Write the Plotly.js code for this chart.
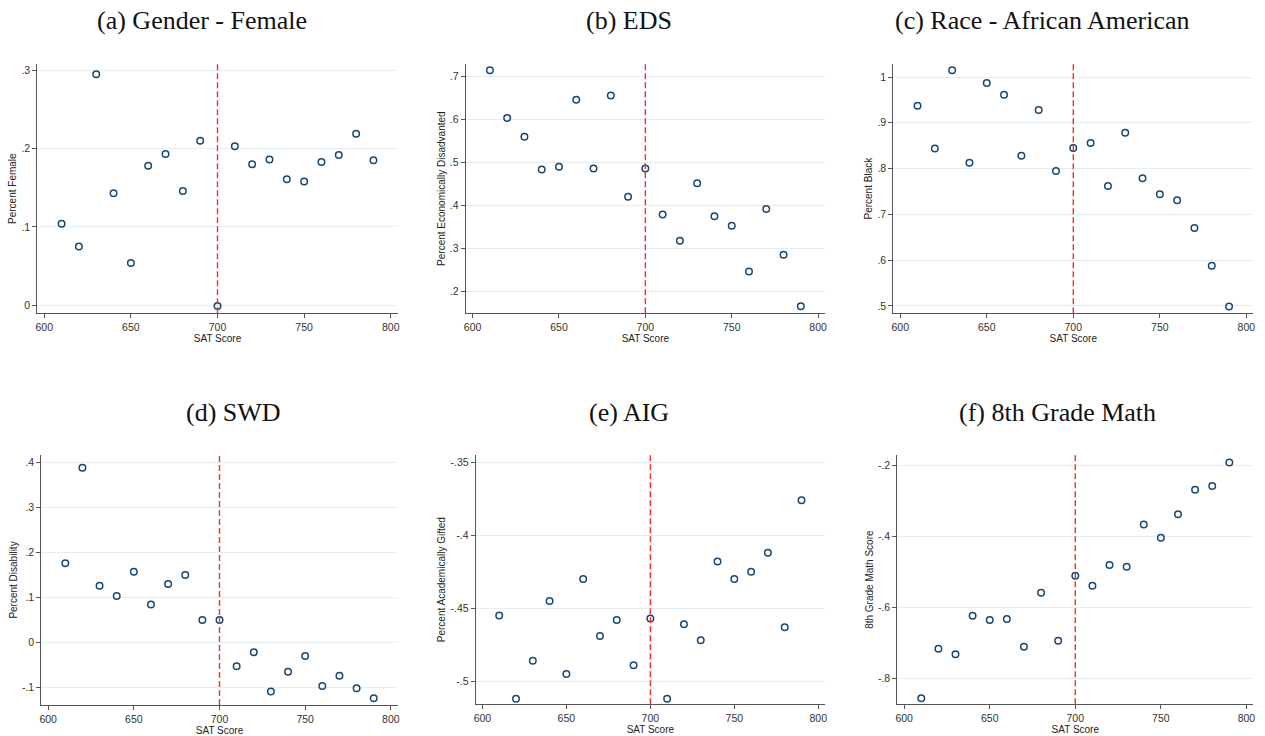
<!DOCTYPE html>
<html>
<head>
<meta charset="utf-8">
<script src="https://cdn.plot.ly/plotly-3.0.1.min.js"></script>
<style>
  html, body { margin: 0; padding: 0; background: #ffffff; }
  #chart { width: 1265px; height: 736px; }
</style>
</head>
<body>
<div id="chart"></div>
<script>
// SAT score bins (x axis shared by every panel)
const satScore = [610, 620, 630, 640, 650, 660, 670, 680, 690, 700,
                  710, 720, 730, 740, 750, 760, 770, 780, 790];

// Binned means per outcome
const pctFemale = [0.104, 0.075, 0.295, 0.143, 0.054, 0.178, 0.193, 0.146, 0.210, -0.001,
                   0.203, 0.180, 0.186, 0.161, 0.158, 0.183, 0.192, 0.219, 0.185];
const pctEconDisadv = [0.715, 0.604, 0.560, 0.484, 0.490, 0.646, 0.486, 0.656, 0.420, 0.486,
                       0.379, 0.318, 0.452, 0.375, 0.353, 0.246, 0.392, 0.285, 0.165];
const pctBlack = [0.937, 0.844, 1.015, 0.813, 0.987, 0.961, 0.828, 0.928, 0.795, 0.845,
                  0.856, 0.762, 0.878, 0.779, 0.744, 0.731, 0.670, 0.588, 0.499];
const pctDisability = [0.176, 0.388, 0.126, 0.103, 0.157, 0.084, 0.130, 0.150, 0.050, 0.050,
                       -0.053, -0.022, -0.109, -0.065, -0.030, -0.097, -0.074, -0.102, -0.124];
const pctGifted = [-0.455, -0.512, -0.486, -0.445, -0.495, -0.430, -0.469, -0.458, -0.489, -0.457,
                   -0.512, -0.461, -0.472, -0.418, -0.430, -0.425, -0.412, -0.463, -0.376];
const math8 = [-0.856, -0.717, -0.732, -0.624, -0.636, -0.633, -0.711, -0.559, -0.694, -0.511,
               -0.539, -0.481, -0.486, -0.367, -0.404, -0.338, -0.269, -0.258, -0.192];

// Panel titles, y-axis titles and y tick labels
const panelTitles = ['(a) Gender - Female', '(b) EDS', '(c) Race - African American',
                     '(d) SWD', '(e) AIG', '(f) 8th Grade Math'];
const yTitles = ['Percent Female', 'Percent Economically Disadvanted', 'Percent Black',
                 'Percent Disability', 'Percent Academically Gifted', '8th Grade Math Score'];
const yTickVals = [
  [0, 0.1, 0.2, 0.3],
  [0.2, 0.3, 0.4, 0.5, 0.6, 0.7],
  [0.5, 0.6, 0.7, 0.8, 0.9, 1],
  [-0.1, 0, 0.1, 0.2, 0.3, 0.4],
  [-0.5, -0.45, -0.4, -0.35],
  [-0.8, -0.6, -0.4, -0.2]
];
const yTickText = [
  ['0', '.1', '.2', '.3'],
  ['.2', '.3', '.4', '.5', '.6', '.7'],
  ['.5', '.6', '.7', '.8', '.9', '1'],
  ['-.1', '0', '.1', '.2', '.3', '.4'],
  ['-.5', '-.45', '-.4', '-.35'],
  ['-.8', '-.6', '-.4', '-.2']
];
const xTickVals = [600, 650, 700, 750, 800];
const cutoff = 700;

const series = [pctFemale, pctEconDisadv, pctBlack, pctDisability, pctGifted, math8];

// Page geometry (pixels) for each panel: plot box, y range, title centre
const W = 1265, H = 736;
const panels = [
  { x0: 37.3,  x1: 397.7,  y0: 64,  y1: 313.3, yr: [-0.0102, 0.308],  tx: 202,  ty: 20 },
  { x0: 465.7, x1: 825,    y0: 64,  y1: 313.3, yr: [0.1488, 0.7295],  tx: 629,  ty: 20 },
  { x0: 893.3, x1: 1253.3, y0: 64,  y1: 313.3, yr: [0.484, 1.0284],   tx: 1042, ty: 20 },
  { x0: 41.3,  x1: 397.7,  y0: 455, y1: 705,   yr: [-0.139, 0.4163],  tx: 234,  ty: 412 },
  { x0: 475.7, x1: 825,    y0: 455, y1: 704.3, yr: [-0.5158, -0.345], tx: 629,  ty: 412 },
  { x0: 897.3, x1: 1253.3, y0: 455, y1: 704.3, yr: [-0.8732, -0.1709], tx: 1057, ty: 412 }
];

const navy = '#1a476f';
const refRed = '#ff2a2a';
const tickFont = { family: 'Liberation Sans, Arial, sans-serif', size: 10.5, color: '#333333' };
const axTitleFont = { family: 'Liberation Sans, Arial, sans-serif', size: 10, color: '#222222' };

const traces = [];
const shapes = [];
const annotations = [];
const layout = {
  width: W, height: H,
  margin: { l: 0, r: 0, t: 0, b: 0 },
  paper_bgcolor: '#ffffff',
  plot_bgcolor: '#ffffff',
  showlegend: false,
  font: tickFont
};

panels.forEach((p, i) => {
  const n = i === 0 ? '' : String(i + 1);
  const xa = 'x' + n, ya = 'y' + n;

  traces.push({
    type: 'scatter', mode: 'markers',
    x: satScore, y: series[i],
    xaxis: xa, yaxis: ya,
    marker: { symbol: 'circle-open', size: 6.5, color: navy, line: { color: navy, width: 1.5 } },
    hoverinfo: 'skip'
  });

  layout['xaxis' + n] = {
    domain: [p.x0 / W, p.x1 / W],
    anchor: ya,
    range: [596, 804],
    tickmode: 'array', tickvals: xTickVals,
    ticks: 'outside', ticklen: 4, tickcolor: '#555555', tickwidth: 1,
    showline: true, linecolor: '#555555', linewidth: 1,
    showgrid: false, zeroline: false,
    tickfont: tickFont,
    title: { text: 'SAT Score', font: axTitleFont, standoff: 0 }
  };
  layout['yaxis' + n] = {
    domain: [1 - p.y1 / H, 1 - p.y0 / H],
    anchor: xa,
    range: p.yr,
    tickmode: 'array', tickvals: yTickVals[i], ticktext: yTickText[i],
    ticks: 'outside', ticklen: 4, tickcolor: '#555555', tickwidth: 1,
    showline: true, linecolor: '#555555', linewidth: 1,
    showgrid: true, gridcolor: '#e5eef2', gridwidth: 1,
    zeroline: false,
    tickfont: tickFont,
    title: { text: yTitles[i], font: axTitleFont, standoff: 2 }
  };

  // Dashed reference line at the cutoff score
  shapes.push({
    type: 'line', xref: xa, yref: ya + ' domain',
    x0: cutoff, x1: cutoff, y0: 0, y1: 1,
    line: { color: refRed, width: 1.4, dash: '6px,3px' }
  });

  annotations.push({
    text: panelTitles[i],
    xref: 'paper', yref: 'paper',
    x: p.tx / W, y: 1 - p.ty / H,
    xanchor: 'center', yanchor: 'middle',
    showarrow: false,
    font: { family: 'Liberation Serif, Times New Roman, serif', size: 26, color: '#111111' }
  });
});

layout.shapes = shapes;
layout.annotations = annotations;

Plotly.newPlot('chart', traces, layout, { staticPlot: true, displayModeBar: false });
</script>
</body>
</html>
